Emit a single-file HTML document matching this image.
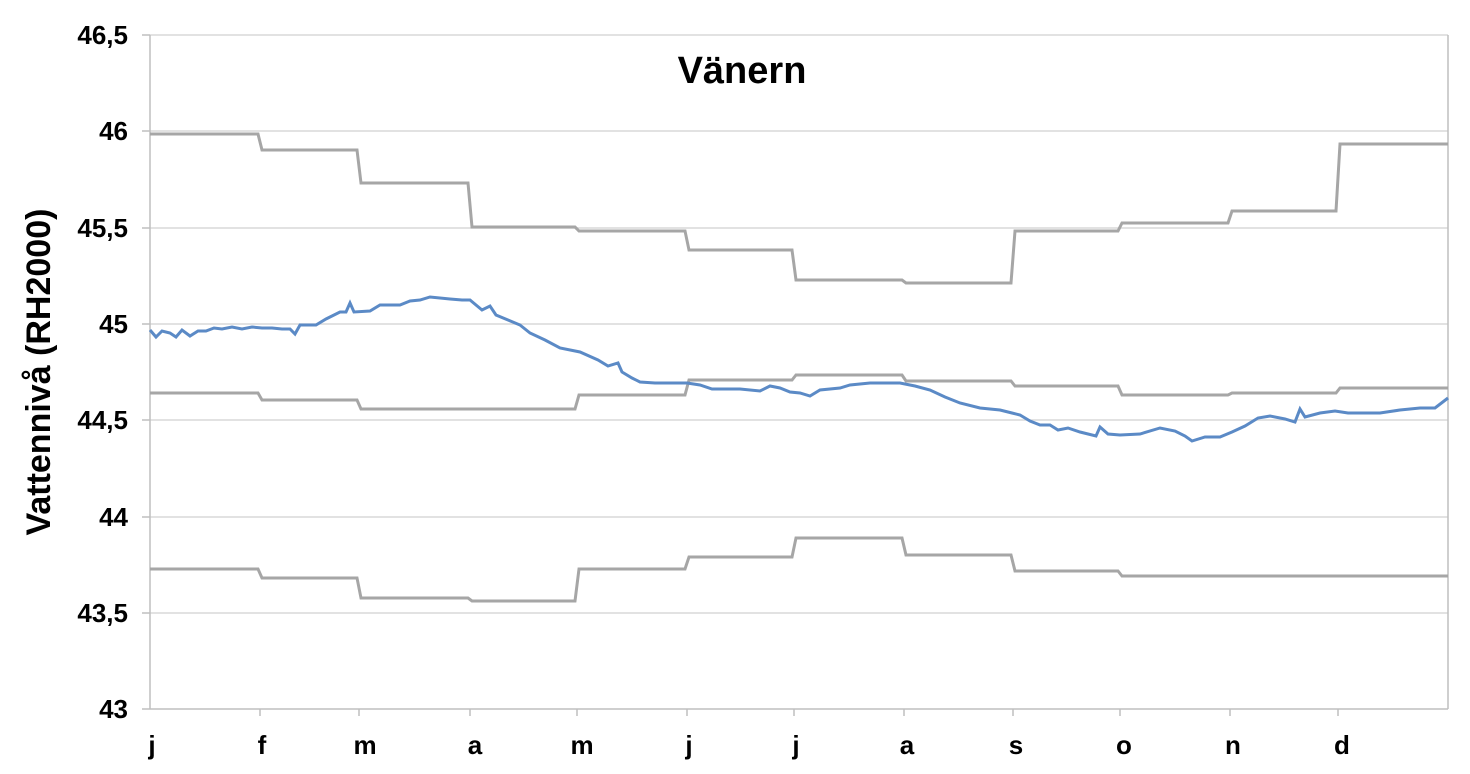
<!DOCTYPE html>
<html><head><meta charset="utf-8"><style>
body{margin:0;background:#fff}
svg text{font-family:"Liberation Sans",Arial,sans-serif;font-weight:bold;fill:#000}
</style></head><body>
<svg width="1470" height="769" viewBox="0 0 1470 769">
<g stroke="#d9d9d9" stroke-width="1.5">
<line x1="150" x2="1448" y1="35" y2="35"/><line x1="150" x2="1448" y1="131" y2="131"/>
<line x1="150" x2="1448" y1="228" y2="228"/><line x1="150" x2="1448" y1="324" y2="324"/>
<line x1="150" x2="1448" y1="420" y2="420"/><line x1="150" x2="1448" y1="517" y2="517"/>
<line x1="150" x2="1448" y1="613" y2="613"/>
</g>
<g stroke="#bfbfbf" stroke-width="1.5">
<line x1="150" x2="150" y1="35" y2="709"/><line x1="1448" x2="1448" y1="35" y2="709"/>
<line x1="150" x2="1448" y1="709" y2="709"/>
<line x1="142" x2="150" y1="35" y2="35"/><line x1="142" x2="150" y1="131" y2="131"/><line x1="142" x2="150" y1="228" y2="228"/><line x1="142" x2="150" y1="324" y2="324"/><line x1="142" x2="150" y1="420" y2="420"/><line x1="142" x2="150" y1="517" y2="517"/><line x1="142" x2="150" y1="613" y2="613"/><line x1="142" x2="150" y1="709" y2="709"/>
<line x1="260" x2="260" y1="709" y2="716"/><line x1="359" x2="359" y1="709" y2="716"/><line x1="470" x2="470" y1="709" y2="716"/><line x1="577" x2="577" y1="709" y2="716"/><line x1="687" x2="687" y1="709" y2="716"/><line x1="794" x2="794" y1="709" y2="716"/><line x1="904" x2="904" y1="709" y2="716"/><line x1="1013" x2="1013" y1="709" y2="716"/><line x1="1120" x2="1120" y1="709" y2="716"/><line x1="1230" x2="1230" y1="709" y2="716"/><line x1="1338" x2="1338" y1="709" y2="716"/>
</g>
<g fill="none" stroke="#a6a6a6" stroke-width="3">
<polyline points="150,134 258,134 262,150 357,150 361,183 468,183 472,227 575,227 579,231 685,231 689,250 792,250 796,280 902,280 906,283 1011,283 1015,231 1118,231 1122,223 1228,223 1232,211 1336,211 1340,144 1448,144"/>
<polyline points="150,393 258,393 262,400 357,400 361,409 575,409 579,395 685,395 689,380 792,380 796,375 902,375 906,381 1011,381 1015,386 1118,386 1122,395 1228,395 1232,393 1336,393 1340,388 1448,388"/>
<polyline points="150,569 258,569 262,578 357,578 361,598 468,598 472,601 575,601 579,569 685,569 689,557 792,557 796,538 902,538 906,555 1011,555 1015,571 1118,571 1122,576 1448,576"/>
</g>
<polyline fill="none" stroke="#5b8ac6" stroke-width="3" points="150,330 156,337 162,331 170,333 176,337 182,330 190,336 198,331 206,331 214,328 222,329 232,327 242,329 252,327 262,328 272,328 282,329 290,329 295,334 300,325 316,325 326,319 340,312 346,312 350,303 354,312 370,311 380,305 400,305 410,301 420,300 430,297 450,299 462,300 470,300 482,310 490,306 496,315 508,320 520,325 530,333 545,340 560,348 580,352 598,360 608,366 618,363 622,372 632,378 640,382 655,383 687,383 700,385 712,389 740,389 760,391 770,386 780,388 790,392 800,393 810,396 820,390 840,388 850,385 870,383 900,383 915,386 930,390 945,397 960,403 980,408 1000,410 1012,413 1020,415 1030,421 1040,425 1050,425 1058,430 1068,428 1080,432 1096,436 1100,427 1108,434 1120,435 1140,434 1160,428 1175,431 1185,436 1192,441 1205,437 1220,437 1232,432 1245,426 1258,418 1270,416 1285,419 1295,422 1300,409 1305,417 1320,413 1335,411 1348,413 1360,413 1380,413 1400,410 1420,408 1435,408 1448,398"/>
<g font-size="26" text-anchor="end">
<text x="128" y="44">46,5</text><text x="128" y="140">46</text><text x="128" y="237">45,5</text><text x="128" y="333">45</text><text x="128" y="429">44,5</text><text x="128" y="526">44</text><text x="128" y="622">43,5</text><text x="128" y="718">43</text>
</g>
<g font-size="26" text-anchor="middle">
<text x="152" y="754">j</text><text x="262" y="754">f</text><text x="365" y="754">m</text><text x="475" y="754">a</text><text x="582" y="754">m</text><text x="689" y="754">j</text><text x="796" y="754">j</text><text x="907" y="754">a</text><text x="1016" y="754">s</text><text x="1124" y="754">o</text><text x="1233" y="754">n</text><text x="1342" y="754">d</text>
</g>
<text x="742" y="83" font-size="38" text-anchor="middle">Vänern</text>
<text transform="translate(50,372) rotate(-90)" font-size="34" text-anchor="middle">Vattennivå (RH2000)</text>
</svg>
</body></html>
